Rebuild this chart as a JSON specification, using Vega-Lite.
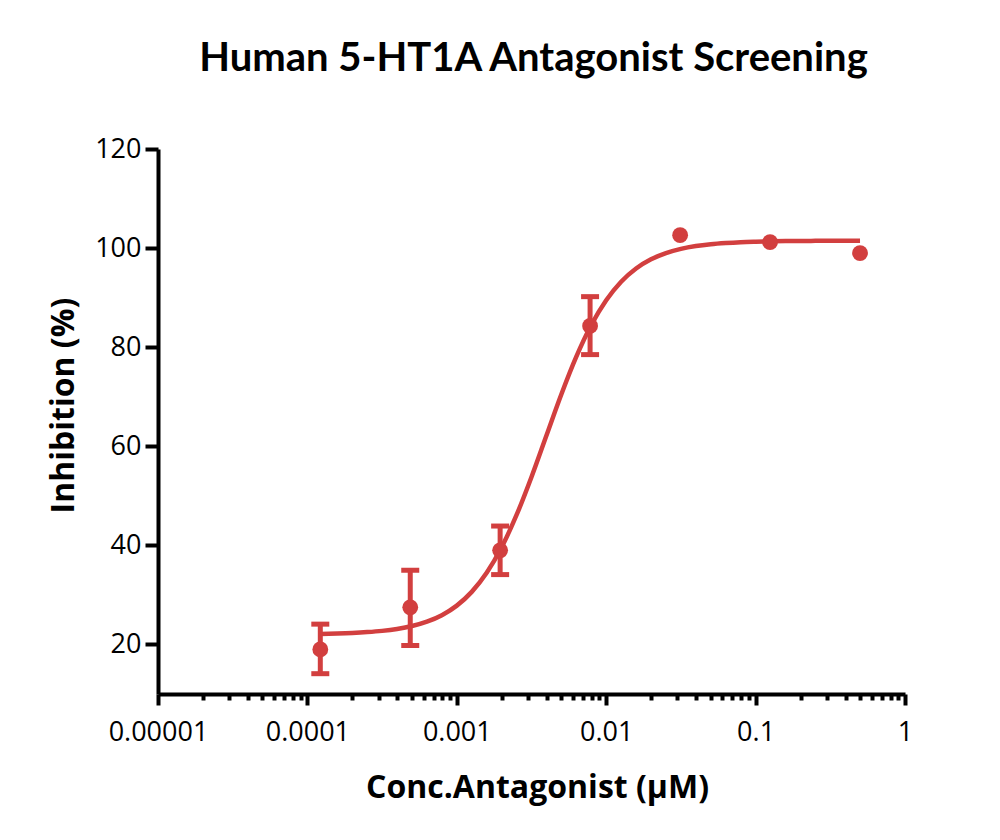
{
  "$schema": "https://vega.github.io/schema/vega-lite/v6.json",
  "width": 747,
  "height": 545,
  "autosize": "none",
  "padding": {"left": 158, "top": 149, "right": 95, "bottom": 146},
  "background": "white",
  "title": {
    "text": "Human 5-HT1A Antagonist Screening",
    "font": "Lato",
    "fontSize": 40,
    "fontWeight": "bold",
    "color": "black",
    "anchor": "middle",
    "frame": "group",
    "baseline": "alphabetic",
    "offset": 24,
    "dx": 2
  },
  "config": {
    "view": {"stroke": null},
    "axis": {
      "labelFont": "Open Sans",
      "labelFontSize": 27,
      "labelColor": "black",
      "titleFont": "Open Sans",
      "titleFontSize": 32,
      "titleFontWeight": "bold",
      "titleColor": "black",
      "domainColor": "black",
      "domainWidth": 4,
      "tickColor": "black",
      "tickWidth": 4,
      "grid": false
    }
  },
  "datasets": {
    "curve": [
      {"conc": 0.0001222, "fit": 22.13},
      {"conc": 0.000158489, "fit": 22.21},
      {"conc": 0.000199526, "fit": 22.32},
      {"conc": 0.000251189, "fit": 22.49},
      {"conc": 0.000316228, "fit": 22.74},
      {"conc": 0.000398107, "fit": 23.13},
      {"conc": 0.000501187, "fit": 23.72},
      {"conc": 0.000630957, "fit": 24.6},
      {"conc": 0.000794328, "fit": 25.91},
      {"conc": 0.001, "fit": 27.84},
      {"conc": 0.00125893, "fit": 30.61},
      {"conc": 0.00158489, "fit": 34.46},
      {"conc": 0.00199526, "fit": 39.61},
      {"conc": 0.00251189, "fit": 46.13},
      {"conc": 0.00316228, "fit": 53.81},
      {"conc": 0.00398107, "fit": 62.17},
      {"conc": 0.00501187, "fit": 70.5},
      {"conc": 0.00630957, "fit": 78.08},
      {"conc": 0.00794328, "fit": 84.47},
      {"conc": 0.01, "fit": 89.48},
      {"conc": 0.0125893, "fit": 93.22},
      {"conc": 0.0158489, "fit": 95.89},
      {"conc": 0.0199526, "fit": 97.74},
      {"conc": 0.0251189, "fit": 99.0},
      {"conc": 0.0316228, "fit": 99.85},
      {"conc": 0.0398107, "fit": 100.42},
      {"conc": 0.0501187, "fit": 100.79},
      {"conc": 0.0630957, "fit": 101.03},
      {"conc": 0.0794328, "fit": 101.2},
      {"conc": 0.1, "fit": 101.3},
      {"conc": 0.158489, "fit": 101.42},
      {"conc": 0.251189, "fit": 101.46},
      {"conc": 0.398107, "fit": 101.48},
      {"conc": 0.5, "fit": 101.49}
    ],
    "points": [
      {"conc": 0.000122, "inhibition": 19.0, "lo": 14.1, "hi": 24.1},
      {"conc": 0.000488, "inhibition": 27.5, "lo": 19.8, "hi": 35.0},
      {"conc": 0.00195, "inhibition": 39.0, "lo": 34.1, "hi": 43.9},
      {"conc": 0.0078, "inhibition": 84.3, "lo": 78.5, "hi": 90.2},
      {"conc": 0.03125, "inhibition": 102.6, "lo": null, "hi": null},
      {"conc": 0.125, "inhibition": 101.2, "lo": null, "hi": null},
      {"conc": 0.5, "inhibition": 99.0, "lo": null, "hi": null}
    ]
  },
  "layer": [
    {
      "data": {"name": "curve"},
      "mark": {"type": "line", "color": "#d23f3f", "strokeWidth": 4.5, "interpolate": "monotone"},
      "encoding": {
        "x": {
          "field": "conc", "type": "quantitative",
          "scale": {"type": "log", "domain": [0.00001, 1], "nice": false},
          "axis": {
            "orient": "bottom",
            "title": "Conc.Antagonist (μM)",
            "values": [0.00001, 0.0001, 0.001, 0.01, 0.1, 1],
            "format": ".5~f",
            "tickSize": 11,
            "labelPadding": 14,
            "titleX": 379,
            "titleY": 103,
            "titleBaseline": "alphabetic",
            "titleAlign": "center",
            "labelFlush": false,
            "labelOverlap": false
          }
        },
        "y": {
          "field": "fit", "type": "quantitative",
          "title": "Inhibition (%)",
          "scale": {"domain": [10, 120], "nice": false, "zero": false},
          "axis": {
            "values": [20, 40, 60, 80, 100, 120],
            "tickSize": 13,
            "labelPadding": 4,
            "titleX": -85,
            "titleY": 256,
            "titleAngle": -90,
            "titleBaseline": "alphabetic",
            "titleAlign": "center"
          }
        }
      }
    },
    {
      "data": {"name": "points"},
      "transform": [{"filter": "isValid(datum.lo)"}],
      "mark": {
        "type": "errorbar",
        "color": "#d23f3f",
        "thickness": 5,
        "opacity": 1,
        "ticks": {"size": 18, "thickness": 5, "color": "#d23f3f", "opacity": 1},
        "rule": {"strokeWidth": 5, "color": "#d23f3f", "opacity": 1}
      },
      "encoding": {
        "x": {"field": "conc", "type": "quantitative", "axis": null},
        "y": {"field": "lo", "type": "quantitative", "title": "Inhibition (%)"},
        "y2": {"field": "hi"}
      }
    },
    {
      "data": {"name": "points"},
      "mark": {"type": "circle", "color": "#d23f3f", "size": 250, "opacity": 1},
      "encoding": {
        "x": {
          "field": "conc", "type": "quantitative",
          "axis": {
            "orient": "bottom",
            "title": null,
            "values": [0.00002, 0.00003, 0.00004, 0.00005, 0.00006, 0.00007, 0.00008, 0.00009,
                       0.0002, 0.0003, 0.0004, 0.0005, 0.0006, 0.0007, 0.0008, 0.0009,
                       0.002, 0.003, 0.004, 0.005, 0.006, 0.007, 0.008, 0.009,
                       0.02, 0.03, 0.04, 0.05, 0.06, 0.07, 0.08, 0.09,
                       0.2, 0.3, 0.4, 0.5, 0.6, 0.7, 0.8, 0.9],
            "labels": false,
            "domain": false,
            "tickSize": 6
          }
        },
        "y": {"field": "inhibition", "type": "quantitative", "title": "Inhibition (%)"}
      }
    }
  ],
  "resolve": {"axis": {"x": "independent"}}
}
